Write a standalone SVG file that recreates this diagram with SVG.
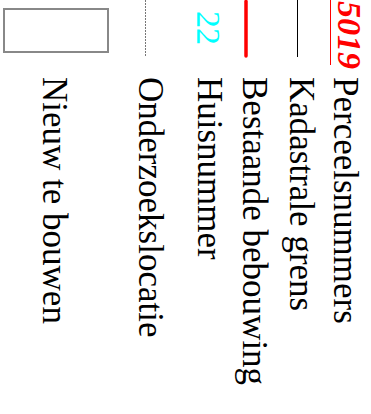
<svg xmlns="http://www.w3.org/2000/svg" width="371" height="414" viewBox="0 0 371 414">
<style>
.lbl{font-family:"Liberation Serif","Times New Roman",serif;font-size:35px;fill:#000}
</style>
<rect width="371" height="414" fill="#fff"/>
<g id="perceelsnummers">
<line x1="330.5" y1="0" x2="330.5" y2="65" stroke="#f00" stroke-width="1"/>
<text transform="translate(338,1) rotate(90)" font-family="Liberation Serif, serif" font-size="34" font-weight="bold" font-style="italic" fill="#f00">5019</text>
<text class="lbl" transform="translate(334,77) rotate(90)">Perceelsnummers</text>
</g>
<g id="kadastrale-grens">
<line x1="297.5" y1="0" x2="297.5" y2="57" stroke="#000" stroke-width="1"/>
<text class="lbl" transform="translate(290,77) rotate(90)">Kadastrale grens</text>
</g>
<g id="bestaande-bebouwing">
<line x1="246" y1="1.5" x2="246" y2="56" stroke="#f00" stroke-width="3.5" stroke-linecap="round"/>
<text class="lbl" transform="translate(243,77) rotate(90)">Bestaande bebouwing</text>
</g>
<g id="huisnummer">
<text transform="translate(197,11) rotate(90)" font-family="Liberation Serif, serif" font-size="34" fill="#0ff">22</text>
<text class="lbl" transform="translate(198,77) rotate(90)">Huisnummer</text>
</g>
<g id="onderzoekslocatie">
<line x1="145.5" y1="0" x2="145.5" y2="57" stroke="#777" stroke-width="1" stroke-dasharray="2,1"/>
<text class="lbl" transform="translate(139,77) rotate(90)">Onderzoekslocatie</text>
</g>
<g id="nieuw-te-bouwen">
<rect x="4" y="9" width="104" height="43" fill="#fff" stroke="#888" stroke-width="2"/>
<text class="lbl" transform="translate(43,77) rotate(90)">Nieuw te bouwen</text>
</g>
</svg>
